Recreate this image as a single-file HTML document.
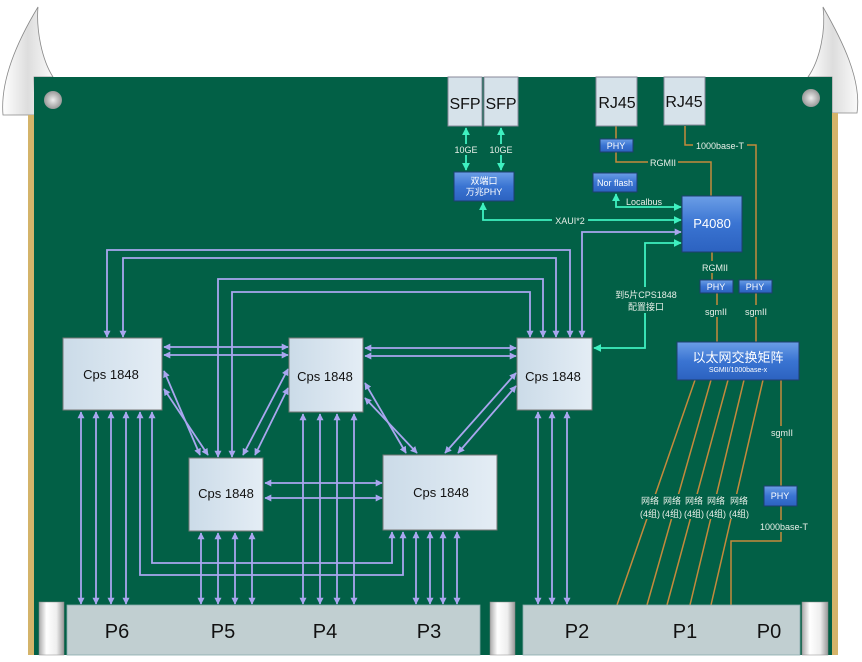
<!DOCTYPE html>
<html><head><meta charset="utf-8"><style>
html,body{margin:0;padding:0;background:#fff;}
svg{display:block;font-family:"Liberation Sans","Noto Sans CJK SC",sans-serif;}
</style></head><body>
<svg width="862" height="662" viewBox="0 0 862 662" xmlns="http://www.w3.org/2000/svg">
<defs>
<marker id="ap" viewBox="0 0 10 10" refX="9" refY="5" markerWidth="7" markerHeight="7" orient="auto-start-reverse" markerUnits="userSpaceOnUse"><path d="M0,0 L10,5 L0,10 Z" fill="#a9a6ef"/></marker>
<marker id="at" viewBox="0 0 10 10" refX="9" refY="5" markerWidth="8" markerHeight="8" orient="auto-start-reverse" markerUnits="userSpaceOnUse"><path d="M0,0 L10,5 L0,10 Z" fill="#3ff0c0"/></marker>
<linearGradient id="cps" x1="0" y1="0" x2="1" y2="0"><stop offset="0" stop-color="#cbdbe8"/><stop offset="1" stop-color="#e4edf5"/></linearGradient>
<linearGradient id="blu" x1="0" y1="0" x2="0" y2="1"><stop offset="0" stop-color="#6b9ee6"/><stop offset="0.5" stop-color="#3a74d2"/><stop offset="1" stop-color="#2c62c0"/></linearGradient>
<linearGradient id="curl" x1="0" y1="0" x2="1" y2="0"><stop offset="0" stop-color="#fff"/><stop offset="0.5" stop-color="#ddd"/><stop offset="1" stop-color="#fafafa"/></linearGradient>
<linearGradient id="ej" x1="0" y1="0" x2="1" y2="0"><stop offset="0" stop-color="#aaa"/><stop offset="0.3" stop-color="#fff"/><stop offset="0.7" stop-color="#eee"/><stop offset="1" stop-color="#999"/></linearGradient>
<radialGradient id="scr"><stop offset="0" stop-color="#eee"/><stop offset="1" stop-color="#999"/></radialGradient>
</defs>
<path d="M38,7 C18,40 0,80 3,115 L35,115 L34,77 L53,77 C42,60 36,30 38,7 Z" fill="url(#curl)" stroke="#888" stroke-width="0.8"/>
<path d="M823,7 C842,40 862,80 857,113 L832,113 L832,77 L808,77 C820,60 826,30 823,7 Z" fill="url(#curl)" stroke="#888" stroke-width="0.8"/>
<rect x="28" y="115" width="7" height="540" fill="#d4b46a"/>
<rect x="831" y="113" width="7" height="542" fill="#d4b46a"/>
<rect x="34" y="77" width="798" height="578" fill="#026046"/>
<circle cx="53" cy="100" r="9" fill="url(#scr)"/><circle cx="811" cy="98" r="9" fill="url(#scr)"/>

<g stroke="#a9a6ef" stroke-width="1.8" fill="none" marker-start="url(#ap)" marker-end="url(#ap)">
<path d="M107,337 V250 H570 V337"/>
<path d="M123,337 V258 H556 V337"/>
<path d="M218,457 V279 H543 V337"/>
<path d="M232,457 V292 H530 V337"/>
<path d="M582,337 V232 H681"/>
<path d="M164,347 H288"/>
<path d="M164,355 H288"/>
<path d="M365,348 H516"/>
<path d="M365,356 H516"/>
<path d="M265,483 H382"/>
<path d="M265,498 H382"/>
<path d="M164,371 L200,455"/>
<path d="M164,389 L208,455"/>
<path d="M288,369 L243,455"/>
<path d="M288,388 L255,455"/>
<path d="M365,383 L406,453"/>
<path d="M365,398 L417,453"/>
<path d="M516,373 L445,453"/>
<path d="M516,386 L458,453"/>
<path d="M152,412 V563 H392 V532"/>
<path d="M140,412 V575 H403 V532"/>
<path d="M81,412 V604"/><path d="M96,412 V604"/><path d="M111,412 V604"/><path d="M126,412 V604"/>
<path d="M201,533 V604"/><path d="M218,533 V604"/><path d="M235,533 V604"/><path d="M252,533 V604"/>
<path d="M303,414 V604"/><path d="M320,414 V604"/><path d="M337,414 V604"/><path d="M354,414 V604"/>
<path d="M416,532 V604"/><path d="M430,532 V604"/><path d="M443,532 V604"/><path d="M457,532 V604"/>
<path d="M538,412 V604"/><path d="M552,412 V604"/><path d="M567,412 V604"/>
</g>

<g stroke="#3ff0c0" stroke-width="1.8" fill="none" marker-start="url(#at)" marker-end="url(#at)">
<path d="M466,128 V170"/>
<path d="M501,128 V170"/>
<path d="M483,203 V220 H681"/>
<path d="M616,194 V207 H681"/>
<path d="M594,348 H645 V243 H681"/>
</g>
<g stroke="#c48a3c" stroke-width="1.5" fill="none">
<path d="M616,126 V139 M616,152 V162 H711 V197"/>
<path d="M685,126 V145 H756 V280"/>
<path d="M712,252 V280 M717,293 V342 M756,293 V342"/>
<path d="M781,380 V486 M781,506 V541 H731 V605"/>
<path d="M695,380 L617,605 M711,380 L647,605 M728,380 L667,605 M744,380 L690,605 M763,380 L711,605"/>
</g>

<g font-size="9" fill="#e8efe8" text-anchor="middle">
<rect x="454" y="144" width="24" height="11" fill="#026046"/><text x="466" y="153">10GE</text>
<rect x="489" y="144" width="24" height="11" fill="#026046"/><text x="501" y="153">10GE</text>
<rect x="552" y="214" width="36" height="12" fill="#026046"/><text x="570" y="224">XAUI*2</text>
<text x="644" y="205">Localbus</text>
<rect x="648" y="156" width="30" height="12" fill="#026046"/><text x="663" y="166">RGMII</text>
<rect x="693" y="139" width="54" height="12" fill="#026046"/><text x="720" y="149">1000base-T</text>
<rect x="619" y="287" width="52" height="26" fill="#026046"/><text x="646" y="298">到5片CPS1848</text><text x="646" y="310">配置接口</text>
<rect x="700" y="261" width="30" height="12" fill="#026046"/><text x="715" y="271">RGMII</text>
<rect x="702" y="305" width="30" height="12" fill="#026046"/><text x="716" y="315">sgmII</text>
<rect x="741" y="305" width="30" height="12" fill="#026046"/><text x="756" y="315">sgmII</text>
<rect x="768" y="426" width="28" height="12" fill="#026046"/><text x="782" y="436">sgmII</text>
<rect x="758" y="520" width="54" height="12" fill="#026046"/><text x="784" y="530">1000base-T</text>
<rect x="638" y="494" width="112" height="25" fill="#026046"/>
<text x="650" y="504">网络</text><text x="650" y="517">(4组)</text>
<text x="672" y="504">网络</text><text x="672" y="517">(4组)</text>
<text x="694" y="504">网络</text><text x="694" y="517">(4组)</text>
<text x="716" y="504">网络</text><text x="716" y="517">(4组)</text>
<text x="739" y="504">网络</text><text x="739" y="517">(4组)</text>
</g>

<g fill="#d6e2ea" stroke="#889" stroke-width="1">
<rect x="448" y="77" width="34" height="49"/><rect x="484" y="77" width="34" height="49"/>
<rect x="596" y="77" width="41" height="49"/><rect x="664" y="77" width="41" height="48"/>
</g>
<g font-size="16" fill="#111" text-anchor="middle">
<text x="465" y="109">SFP</text><text x="501" y="109">SFP</text>
<text x="617" y="108">RJ45</text><text x="684" y="107">RJ45</text>
</g>

<g fill="url(#blu)" stroke="#1d3e6e" stroke-width="1">
<rect x="600" y="139" width="33" height="13"/>
<rect x="454" y="172" width="60" height="29"/>
<rect x="593" y="173" width="44" height="19"/>
<rect x="682" y="196" width="60" height="56"/>
<rect x="700" y="280" width="33" height="13"/>
<rect x="739" y="280" width="33" height="13"/>
<rect x="677" y="342" width="122" height="38"/>
<rect x="764" y="486" width="33" height="20"/>
</g>
<g fill="#fff" text-anchor="middle">
<text x="616" y="149" font-size="9">PHY</text>
<text x="484" y="184" font-size="9">双端口</text><text x="484" y="195" font-size="9">万兆PHY</text>
<text x="615" y="186" font-size="9">Nor flash</text>
<text x="712" y="228" font-size="13">P4080</text>
<text x="716" y="290" font-size="9">PHY</text><text x="755" y="290" font-size="9">PHY</text>
<text x="738" y="362" font-size="13">以太网交换矩阵</text>
<text x="738" y="372" font-size="7">SGMII/1000base-x</text>
<text x="780" y="499" font-size="9">PHY</text>
</g>

<g fill="url(#cps)" stroke="#777" stroke-width="1">
<rect x="63" y="338" width="99" height="72"/>
<rect x="289" y="338" width="74" height="74"/>
<rect x="517" y="338" width="75" height="72"/>
<rect x="189" y="458" width="74" height="73"/>
<rect x="383" y="455" width="114" height="75"/>
</g>
<g fill="#111" font-size="13" text-anchor="middle">
<text x="111" y="379">Cps 1848</text>
<text x="325" y="381">Cps 1848</text>
<text x="553" y="381">Cps 1848</text>
<text x="226" y="498">Cps 1848</text>
<text x="441" y="497">Cps 1848</text>
</g>

<rect x="39" y="602" width="25" height="53" fill="url(#ej)" stroke="#888" stroke-width="0.5"/>
<rect x="490" y="602" width="25" height="53" fill="url(#ej)" stroke="#888" stroke-width="0.5"/>
<rect x="802" y="602" width="26" height="53" fill="url(#ej)" stroke="#888" stroke-width="0.5"/>
<rect x="67" y="605" width="413" height="50" fill="#c1cfd1" stroke="#8aa" stroke-width="0.8"/>
<rect x="523" y="605" width="277" height="50" fill="#c1cfd1" stroke="#8aa" stroke-width="0.8"/>
<g fill="#111" font-size="20" text-anchor="middle">
<text x="117" y="638">P6</text><text x="223" y="638">P5</text><text x="325" y="638">P4</text><text x="429" y="638">P3</text>
<text x="577" y="638">P2</text><text x="685" y="638">P1</text><text x="769" y="638">P0</text>
</g>
</svg>
</body></html>
